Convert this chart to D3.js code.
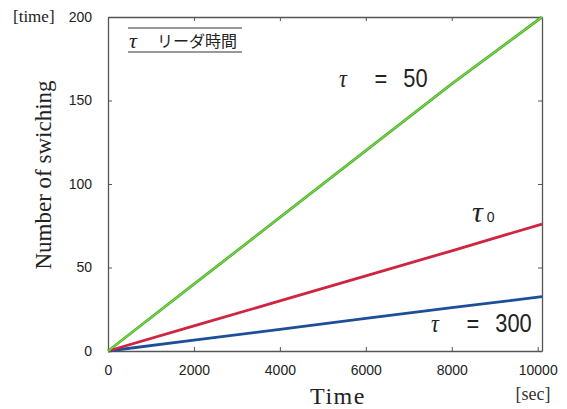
<!DOCTYPE html>
<html>
<head>
<meta charset="utf-8">
<script src="https://cdn.jsdelivr.net/npm/d3@7"></script>
<style>
  body { margin: 0; background: #fff; }
  svg { display: block; }
</style>
</head>
<body>
<div id="chart"></div>
<script>
// dữ liệu
const times = [0, 2000, 4000, 6000, 8000, 10100];
const tau50 = [0, 40, 80, 120, 160, 200];
const tau0 = [0, 15, 30, 45, 60, 76];
const tau300 = [0, 6.5, 13, 19.5, 26, 32.5];
const xTicks = [0, 2000, 4000, 6000, 8000, 10000];
const yTicks = [0, 50, 100, 150, 200];

const W = 567, H = 409;
const margin = { top: 17, right: 25, bottom: 58, left: 108 };
const width = W - margin.left - margin.right;
const height = H - margin.top - margin.bottom;

const svg = d3.select("#chart").append("svg")
    .attr("width", W).attr("height", H);
const g = svg.append("g")
    .attr("transform", `translate(${margin.left},${margin.top})`);

const x = d3.scaleLinear().domain([0, 10100]).range([0, width]);
const y = d3.scaleLinear().domain([0, 200]).range([height, 0]);

const tickFont = "'Liberation Sans', Arial, sans-serif";
const serif = "'Liberation Serif', 'Times New Roman', serif";

// trục dưới + trên, trái + phải (vạch hướng vào trong)
const xAxis = g.append("g").attr("transform", `translate(0,${height})`)
    .call(d3.axisBottom(x).tickValues(xTicks).tickSize(-4).tickPadding(14).tickSizeOuter(0).tickFormat(d3.format("d")));
const xTop = g.append("g")
    .call(d3.axisTop(x).tickValues(xTicks).tickSize(-4).tickFormat("").tickSizeOuter(0));
const yAxis = g.append("g")
    .call(d3.axisLeft(y).tickValues(yTicks).tickSize(-4).tickPadding(16).tickSizeOuter(0));
const yRight = g.append("g").attr("transform", `translate(${width},0)`)
    .call(d3.axisRight(y).tickValues(yTicks).tickSize(-4).tickFormat("").tickSizeOuter(0));

[xAxis, xTop, yAxis, yRight].forEach(a => {
    a.selectAll(".domain").attr("stroke", "#555").attr("stroke-width", 1.3);
    a.selectAll(".tick line").attr("stroke", "#555");
    a.selectAll("text").style("font-family", tickFont).style("font-size", "14px").attr("fill", "#222");
});

// các đường
const series = [
    { vals: tau300, color: "#1d4f98", core: null },
    { vals: tau0, color: "#cf2540", core: null },
    { vals: tau50, color: "#45b432", core: "#a8dc4a" }
];
const line = d3.line().x(d => x(d[0])).y(d => y(d[1]));
series.forEach(s => {
    const pts = times.map((t, i) => [t, s.vals[i]]);
    g.append("path")
        .datum(pts)
        .attr("fill", "none")
        .attr("stroke", s.color)
        .attr("stroke-width", 2.8)
        .attr("d", line);
    if (s.core) {
        g.append("path")
            .datum(pts)
            .attr("fill", "none")
            .attr("stroke", s.core)
            .attr("stroke-width", 0.9)
            .attr("d", line);
    }
});

// chú thích
const leg = g.append("g");
leg.append("line").attr("x1", 20).attr("x2", 134).attr("y1", 11).attr("y2", 11).attr("stroke", "#333").attr("stroke-width", 1);
leg.append("line").attr("x1", 20).attr("x2", 134).attr("y1", 35).attr("y2", 35).attr("stroke", "#333").attr("stroke-width", 1.2);
leg.append("text").attr("x", 21).attr("y", 31)
    .style("font-family", serif).style("font-style", "italic").style("font-size", "22px").attr("fill", "#222").text("τ");
leg.append("text").attr("x", 49).attr("y", 30)
    .style("font-family", "'Noto Sans CJK JP', sans-serif").style("font-size", "16px").attr("fill", "#222").text("リーダ時間");

// nhãn tau (chữ hẹp)
function tauLabel(tx, ty, rest) {
    const t = g.append("text")
        .attr("transform", `translate(${tx},${ty}) scale(0.84,1)`)
        .style("font-family", tickFont)
        .style("font-size", "26px").attr("fill", "#222");
    t.append("tspan").style("font-family", serif).style("font-style", "italic").text("τ");
    t.append("tspan").attr("dx", 33).text("=");
    t.append("tspan").attr("dx", 19).text(rest);
}
tauLabel(231, 70, "50");
tauLabel(323, 315, "300");

const t0 = g.append("text").attr("x", 364).attr("y", 205).attr("fill", "#222");
t0.append("tspan").style("font-family", serif).style("font-style", "italic").style("font-size", "30px").text("τ");
t0.append("tspan").attr("dx", 4).style("font-family", tickFont).style("font-size", "14px").text("0");

// tiêu đề trục
svg.append("text").attr("x", 13).attr("y", 22)
    .style("font-family", serif).style("font-size", "17px").attr("fill", "#222").text("[time]");
svg.append("text")
    .attr("transform", "translate(51,175) rotate(-90)")
    .attr("text-anchor", "middle")
    .style("font-family", serif).style("font-size", "23px").attr("fill", "#222")
    .text("Number of swiching");
svg.append("text").attr("x", 338).attr("y", 404).attr("text-anchor", "middle")
    .style("font-family", serif).style("font-size", "24px").style("letter-spacing", "1.5px").attr("fill", "#222").text("Time");
svg.append("text").attr("x", 533).attr("y", 400).attr("text-anchor", "middle")
    .style("font-family", serif).style("font-size", "18px").attr("fill", "#333").text("[sec]");
</script>
</body>
</html>
